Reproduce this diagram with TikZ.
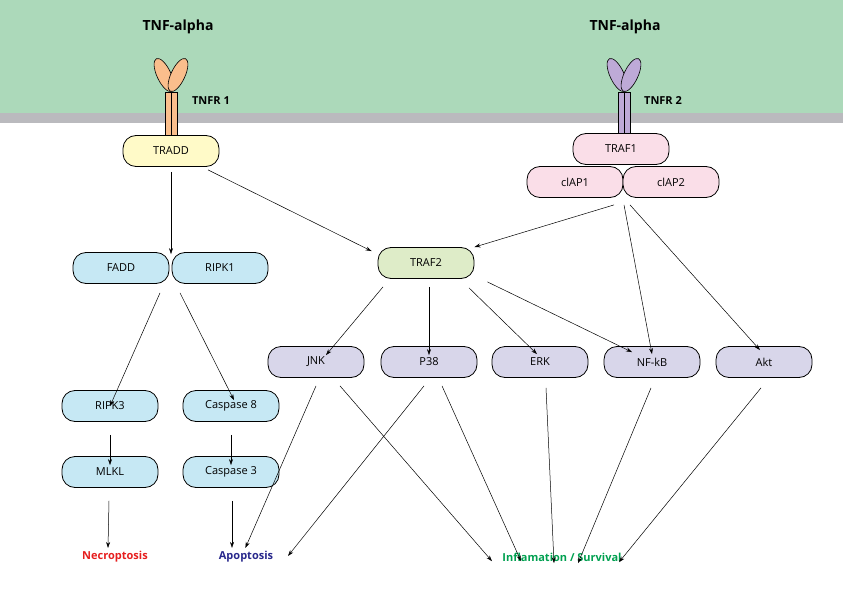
\documentclass[tikz,border=0pt]{standalone}
\usepackage{fontspec}
\setmainfont{Open Sans}
\usetikzlibrary{arrows.meta}
\begin{document}
\begin{tikzpicture}[x=1pt,y=-1pt,
  box/.style={draw,line width=0.8pt,rounded corners=13pt,minimum width=96pt,minimum height=31pt,font=\fontsize{11}{13}\selectfont},
  blue/.style={box,fill=cyan!18!blue!8!white,fill={rgb,255:red,198;green,232;blue,244}},
  lav/.style={box,fill={rgb,255:red,216;green,214;blue,234}},
  pink/.style={box,fill={rgb,255:red,250;green,222;blue,232}},
  arr/.style={-{Stealth[length=6pt,width=4pt]},line width=0.5pt},
  lab/.style={font=\bfseries\fontsize{11}{13}\selectfont}]
\useasboundingbox (0,0) rectangle (843,596);
\fill[fill={rgb,255:red,172;green,217;blue,186}] (0,0) rectangle (843,113);
\fill[fill={rgb,255:red,186;green,186;blue,190}] (0,113) rectangle (843,123);
% receptors
\foreach \cx/\col in {171/{rgb,255:red,250;green,190;blue,140}, 624/{rgb,255:red,190;green,170;blue,215}}{
  \draw[fill=\col,line width=0.6pt] (\cx-6,92) rectangle (\cx,137);
  \draw[fill=\col,line width=0.6pt] (\cx,92) rectangle (\cx+6,137);
  \draw[fill=\col,line width=0.6pt,rotate around={25:(\cx-7,75)}] (\cx-7,75) ellipse (7 and 18);
  \draw[fill=\col,line width=0.6pt,rotate around={-25:(\cx+7,75)}] (\cx+7,75) ellipse (7 and 18);
}
\node[font=\bfseries\fontsize{14}{16}\selectfont] (t1) at (178,27) {TNF-alpha};
\node[font=\bfseries\fontsize{14}{16}\selectfont] (t2) at (625,27) {TNF-alpha};
\node[lab] (r1) at (211,101) {TNFR 1};
\node[lab] (r2) at (663,101) {TNFR 2};
\node[box,fill={rgb,255:red,255;green,250;blue,200}] (TRADD) at (171,151) {TRADD};
\node[pink] (TRAF1) at (621,149) {TRAF1};
\node[pink] (cIAP1) at (575,182) {clAP1};
\node[pink] (cIAP2) at (671,182) {clAP2};
\node[box,fill={rgb,255:red,222;green,236;blue,200}] (TRAF2) at (426,263) {TRAF2};
\node[blue] (FADD) at (121,268) {FADD};
\node[blue] (RIPK1) at (220,268) {RIPK1};
\node[lav] (JNK) at (316,362) {JNK};
\node[lav] (P38) at (429,362) {P38};
\node[lav] (ERK) at (540,362) {ERK};
\node[lav] (NFkB) at (652,362) {NF-kB};
\node[lav] (Akt) at (764,362) {Akt};
\node[blue] (RIPK3) at (110,406) {RIPK3};
\node[blue] (C8) at (231,406) {Caspase 8};
\node[blue] (MLKL) at (110,472) {MLKL};
\node[blue] (C3) at (231,472) {Caspase 3};
\node[lab,text={rgb,255:red,230;green,30;blue,30}] (Nec) at (115,557) {Necroptosis};
\node[lab,text={rgb,255:red,40;green,40;blue,140}] (Apo) at (246,557) {Apoptosis};
\node[lab,text={rgb,255:red,0;green,160;blue,80}] (Inf) at (562,557) {Inflamation / Survival};
% arrows
\draw[arr] ([yshift=-5pt]TRADD.south) -- ([xshift=50pt,yshift=-2pt]FADD.north);
\draw[arr] ([xshift=37pt,yshift=-3pt]TRADD.south) -- ([xshift=-6pt,yshift=-4pt]TRAF2.north west);
\draw[arr] ([xshift=39pt,yshift=-7pt]cIAP1.south) -- ([yshift=0pt]TRAF2.north east);
\draw[arr] ([xshift=-47pt,yshift=-7pt]cIAP2.south) -- ([yshift=-8pt]NFkB.north);
\draw[arr] ([xshift=-41pt,yshift=-7pt]cIAP2.south) -- ([xshift=-4pt,yshift=-4pt]Akt.north);
\draw[arr] ([xshift=39pt,yshift=-9pt]FADD.south) -- ([yshift=-16pt]RIPK3.north);
\draw[arr] ([xshift=-40pt,yshift=-9pt]RIPK1.south) -- ([xshift=3pt,yshift=-10pt]C8.north);
\draw[arr] ([yshift=-13pt]RIPK3.south) -- ([yshift=-9pt]MLKL.north);
\draw[arr] ([yshift=-13pt]C8.south) -- ([yshift=-9pt]C3.north);
\draw[arr] ([xshift=-1pt,yshift=-13pt]MLKL.south) -- ([xshift=-7pt]Nec.north);
\draw[arr] ([xshift=1pt,yshift=-13pt]C3.south) -- ([xshift=-14pt]Apo.north);
\draw[arr] ([xshift=-43pt,yshift=-8pt]TRAF2.south) -- ([xshift=10pt,yshift=-9pt]JNK.north);
\draw[arr] ([xshift=3pt,yshift=-8pt]TRAF2.south) -- ([yshift=-9pt]P38.north);
\draw[arr] ([xshift=43pt,yshift=-9pt]TRAF2.south) -- ([xshift=-3pt,yshift=-8pt]ERK.north);
\draw[arr] ([xshift=13pt,yshift=-3pt]TRAF2.south east) -- ([xshift=-20pt,yshift=-6pt]NFkB.north);
\draw[arr] ([yshift=-8pt]JNK.south) -- ([xshift=30pt]Apo.north west);
\draw[arr] ([xshift=24pt,yshift=-8pt]JNK.south) -- ([xshift=-70pt,yshift=-12pt]Inf.north);
\draw[arr] ([xshift=-5pt,yshift=-8pt]P38.south) -- ([xshift=42pt,yshift=-8pt]Apo.north);
\draw[arr] ([xshift=13pt,yshift=-8pt]P38.south) -- ([xshift=-41pt,yshift=-12pt]Inf.north);
\draw[arr] ([xshift=6pt,yshift=-10pt]ERK.south) -- ([xshift=-8pt,yshift=-14pt]Inf.north);
\draw[arr] ([xshift=-1pt,yshift=-10pt]NFkB.south) -- ([xshift=16pt,yshift=-14pt]Inf.north);
\draw[arr] ([xshift=-3pt,yshift=-10pt]Akt.south) -- ([xshift=57pt,yshift=-13pt]Inf.north);
\end{tikzpicture}
\end{document}
